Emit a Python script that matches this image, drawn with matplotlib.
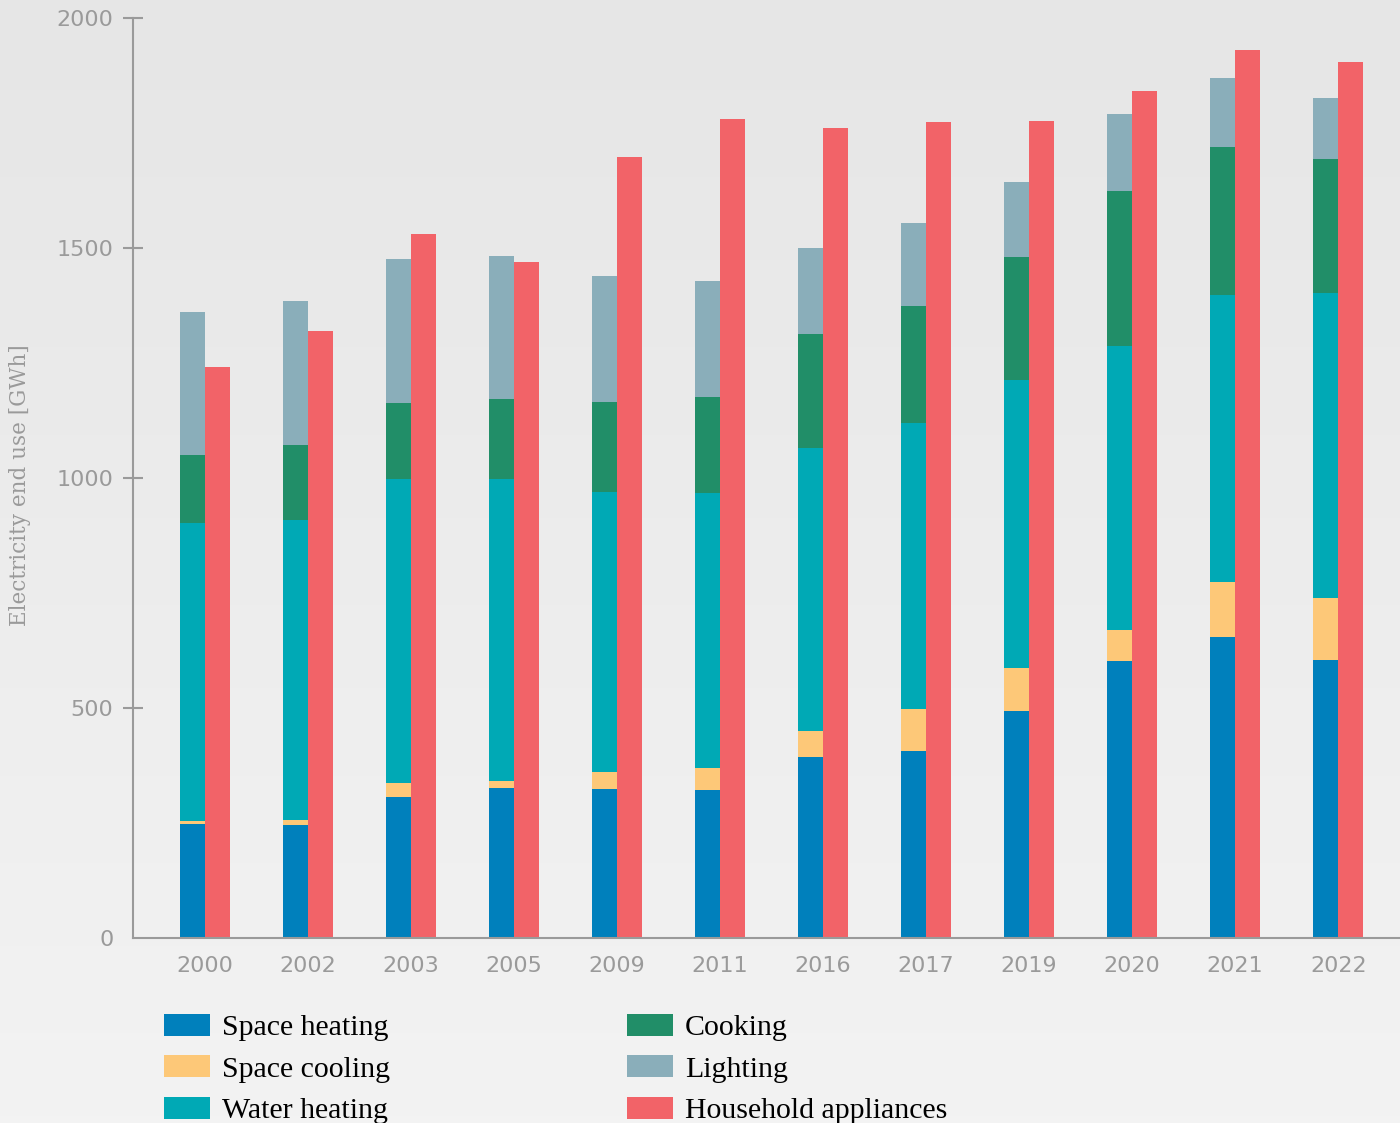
import matplotlib
matplotlib.use('Agg')
import matplotlib.pyplot as plt
import numpy as np
from matplotlib.patches import Patch

# data (GWh)
years = ['2000', '2002', '2003', '2005', '2009', '2011',
         '2016', '2017', '2019', '2020', '2021', '2022']

space_heating = [248, 246, 307, 326, 324, 322, 393, 407, 493, 602, 654, 604]
space_cooling = [6, 11, 30, 15, 37, 48, 57, 91, 94, 68, 120, 135]
water_heating = [648, 652, 661, 657, 609, 597, 615, 622, 626, 617, 624, 663]
cooking = [148, 163, 165, 174, 195, 209, 248, 254, 267, 337, 322, 291]
lighting = [311, 313, 313, 311, 274, 252, 187, 180, 163, 167, 150, 133]
appliances = [1241, 1320, 1530, 1470, 1698, 1780, 1761, 1774, 1776, 1841, 1930, 1904]

stack_names = ['Space heating', 'Space cooling', 'Water heating', 'Cooking', 'Lighting']
stack_values = [space_heating, space_cooling, water_heating, cooking, lighting]
stack_colors = ['#0080BC', '#FDC878', '#00A9B5', '#218E68', '#8AAEBA']
app_name = 'Household appliances'
app_color = '#F26368'

grey = '#9a9a9a'

fig = plt.figure(figsize=(14, 11.23), dpi=100)

# light grey gradient background
bg = fig.add_axes([0, 0, 1, 1], zorder=-10)
grad = np.linspace(0, 1, 256).reshape(-1, 1)
bg.imshow(grad, aspect='auto', cmap=matplotlib.colors.LinearSegmentedColormap.from_list(
    'bg', ['#e6e6e6', '#f3f3f3']), extent=[0, 1, 0, 1], origin='upper',
    interpolation='bilinear')
bg.axis('off')

ax = fig.add_axes([133 / 1400, 185 / 1123, 1 - 133 / 1400, 920 / 1123])
ax.patch.set_alpha(0)

x = np.arange(len(years))
w = 0.243
bottom = np.zeros(len(years))
for name, vals, c in zip(stack_names, stack_values, stack_colors):
    ax.bar(x - w / 2, vals, w, bottom=bottom, color=c, label=name, linewidth=0)
    bottom += np.array(vals)
ax.bar(x + w / 2, appliances, w, color=app_color, label=app_name, linewidth=0)

ax.set_xlim(-0.70, 11.60)
ax.set_ylim(0, 2000)

for s in ['top', 'right']:
    ax.spines[s].set_visible(False)
for s in ['left', 'bottom']:
    ax.spines[s].set_color(grey)
    ax.spines[s].set_linewidth(1.5)

ax.set_xticks(x)
ax.set_xticklabels(years)
ax.set_yticks([0, 500, 1000, 1500, 2000])
ax.tick_params(axis='x', length=0, pad=13, labelsize=16, labelcolor=grey)
ax.tick_params(axis='y', direction='inout', length=14, width=1.5, color=grey,
               pad=7, labelsize=16, labelcolor=grey)
ax.yaxis.get_major_ticks()[0].tick1line.set_visible(False)

fig.text(20 / 1400, 1 - 485 / 1123, 'Electricity end use [GWh]', rotation=90,
         ha='center', va='center', color=grey, fontsize=15.5,
         family='DejaVu Serif')

h1 = [Patch(facecolor=c) for c in stack_colors[:3]]
h2 = [Patch(facecolor=c) for c in stack_colors[3:]] + [Patch(facecolor=app_color)]
leg_kw = dict(loc='center left', frameon=False, borderpad=0,
              borderaxespad=0, handlelength=1.55, handleheight=0.75,
              handletextpad=0.4, labelspacing=0.48,
              prop={'family': 'Liberation Serif', 'size': 21.5})
fig.legend(h1, stack_names[:3], bbox_to_anchor=(164 / 1400, 54 / 1123), **leg_kw)
fig.legend(h2, stack_names[3:] + [app_name], bbox_to_anchor=(627 / 1400, 54 / 1123), **leg_kw)

fig.savefig('out.png', dpi=100)
